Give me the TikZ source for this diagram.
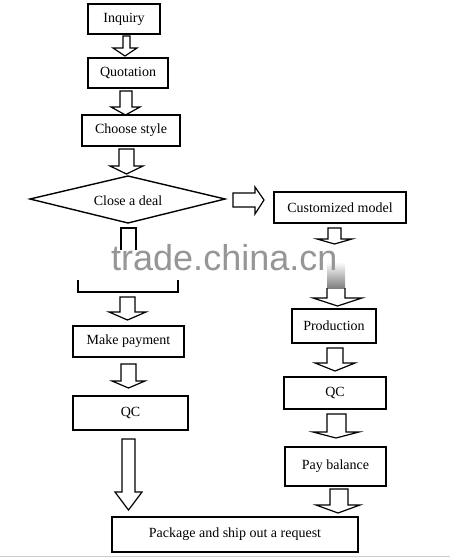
\documentclass[tikz,border=0pt]{standalone}
\usepackage{fontspec}
\setmainfont{Liberation Serif}
\newfontfamily\wmfont{Liberation Sans}
\usetikzlibrary{positioning}
\definecolor{wmgray}{RGB}{150,150,150}
\tikzset{
  box/.style={draw=black, line width=1.6pt, fill=white, inner sep=0pt, font=\fontsize{14}{16}\selectfont, align=center},
  blk/.style={draw=black, line width=1.2pt, fill=white, line join=miter},
  lbl/.style={inner sep=0pt, font=\fontsize{14}{16}\selectfont}
}
% down block arrow: xl, xr, ytop, yhead, hl, hr, ytip
\newcommand\dnarrow[7]{%
  \draw[blk] (#1,#3) -- (#1,#4) -- (#5,#4) -- ({(#5+#6)/2},#7) -- (#6,#4) -- (#2,#4) -- (#2,#3) -- cycle;}
\begin{document}
\begin{tikzpicture}[x=1pt,y=-1pt]
\useasboundingbox (0,0) rectangle (450,557);
\fill[white] (0,0) rectangle (450,557);

% boxes
\node[box, minimum width=72pt, minimum height=30pt] (inq) at (124,19) {Inquiry};
\node[box, minimum width=80pt, minimum height=30pt] (quo) at (128,73) {Quotation};
\node[box, minimum width=98pt, minimum height=31pt] (cho) at (131,130.5) {Choose style};
\coordinate (dl) at (30,199);
\coordinate (dt) at (128,176);
\coordinate (dr) at (225,199);
\coordinate (db) at (128,223);
\draw[line width=1.4pt, line join=miter] (dl) -- (dt) -- (dr) -- (db) -- cycle;
\node[lbl] (deal) at (128,201) {Close a deal};
\node[box, minimum width=132pt, minimum height=31pt] (cus) at (340,207.5) {Customized model};
\node[box, minimum width=111pt, minimum height=31pt] (pay) at (128.5,341.5) {Make payment};
\node[box, minimum width=115pt, minimum height=34pt] (qcl) at (130.5,413) {QC};
\node[box, minimum width=84pt, minimum height=34pt] (pro) at (334,326) {Production};
\node[box, minimum width=102pt, minimum height=32pt] (qcr) at (335,393) {QC};
\node[box, minimum width=101pt, minimum height=39pt] (bal) at (335.5,466.5) {Pay balance};
\node[box, minimum width=246pt, minimum height=35pt] (pkg) at (235,534.5) {Package and ship out a request};

% block arrows, left column
\dnarrow{123}{130}{36}{48}{113}{137}{56}
\dnarrow{120}{132}{91}{107}{111}{140}{115}
\dnarrow{119}{134}{149}{166}{110}{143}{174}
% right block arrow from diamond
\draw[blk] (233,193) -- (255,193) -- (255,187) -- (264,200) -- (255,214) -- (255,207) -- (233,207) -- cycle;
% shaft below the diamond (faded end)
\draw[line width=1.2pt] (121,250) -- (121,228) -- (136,228) -- (136,250);
% bracket
\draw[line width=1.4pt] (78,280) -- (78,292) -- (178,292) -- (178,280);
\dnarrow{120}{135}{297}{312}{109}{146}{320}
\dnarrow{121}{136}{364}{381}{112}{145}{388}
\dnarrow{122}{135}{439}{492}{115}{142}{510}

% right column
\dnarrow{328}{341}{228}{239}{317}{352}{244}
\shade[top color=white, bottom color=gray] (327,262) rectangle (345,288);
\draw[line width=1.2pt] (327,288) -- (327,298) -- (313,298) -- (337.5,306) -- (362,298) -- (345,298) -- (345,288);
\dnarrow{327}{343}{348}{363}{315}{355}{371}
\dnarrow{327}{346}{414}{432}{313}{359}{438}
\dnarrow{330}{348}{489}{505}{316}{360}{513}

% watermark
\node[anchor=base west, inner sep=0pt, text=wmgray, font=\wmfont\fontsize{36}{40}\selectfont] (wm) at (111,270) {trade.china.cn};

% bottom border line
\draw[gray!40, line width=1pt] (0,556) -- (450,556);
\end{tikzpicture}
\end{document}
